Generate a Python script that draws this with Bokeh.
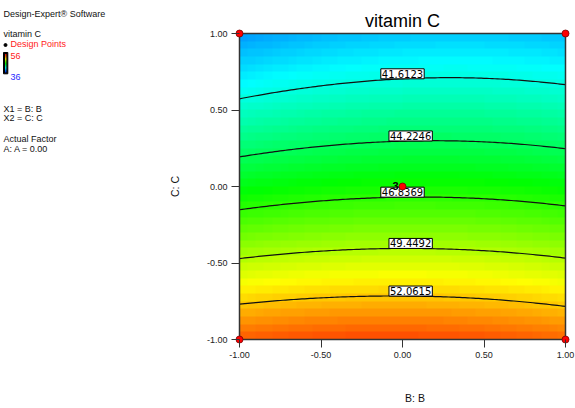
import numpy as np
from bokeh.plotting import figure
from bokeh.layouts import row, column
from bokeh.models import Range1d, FixedTicker, PrintfTickFormatter, LinearColorMapper, ColumnDataSource
from bokeh.core.properties import value
from bokeh.embed import file_html
from bokeh.resources import INLINE

# ---------------- data ----------------
title_text = "vitamin C"
x_label = "B: B"
y_label = "C: C"
tick_values = [-1.0, -0.5, 0.0, 0.5, 1.0]
# fitted quadratic response surface in coded B, C (A held at 0.00)
coef_b0 = 46.32
coef_B = 0.13
coef_C = -7.35
coef_BB = -0.53
coef_CC = 0.94
coef_BC = 0.25
contour_levels = [41.6123, 44.2246, 46.8369, 49.4492, 52.0615]
contour_label_B = [0.0, 0.05, 0.0, 0.05, 0.05]
design_B = [-1.0, -1.0, 1.0, 1.0, 0.0]
design_C = [-1.0, 1.0, -1.0, 1.0, 0.0]
center_reps = "3"
color_low, color_high = 36, 56
legend_head = ["Design-Expert\u00ae Software", "vitamin C"]
legend_points = "Design Points"
legend_factors = ["X1 = B: B", "X2 = C: C", "Actual Factor", "A: A = 0.00"]

FONT = value("Liberation Sans")


def response(B, C):
    return (coef_b0 + coef_B * B + coef_C * C + coef_BB * B * B
            + coef_CC * C * C + coef_BC * B * C)


def contour_C(B, level):
    a = coef_CC
    b = coef_C + coef_BC * B
    c = coef_b0 + coef_B * B + coef_BB * B * B - level
    return (-b - np.sqrt(b * b - 4 * a * c)) / (2 * a)


# palette blue -> cyan -> green -> yellow -> red
stops = np.array([[0, 0, 255], [0, 255, 255], [0, 255, 0], [255, 255, 0], [255, 0, 0]], float)
palette = []
for t in np.linspace(0, 1, 256):
    s = t * 4
    i = min(int(s), 3)
    f = s - i
    c = stops[i] * (1 - f) + stops[i + 1] * f
    palette.append("#%02x%02x%02x" % tuple(int(round(v)) for v in c))
mapper = LinearColorMapper(palette=palette, low=color_low, high=color_high)

PX_X, PX_Y = 163.0, 153.0   # pixels per coded unit
PAD = 5

# ---------------- main figure (page x 199..575, y 0..366) ----------------
mf = figure(width=376, height=366, title=None,
            x_range=Range1d(-1 - PAD / PX_X, 1 + PAD / PX_X),
            y_range=Range1d(-1 - PAD / PX_Y, 1 + 33 / PX_Y),
            toolbar_location=None, output_backend="svg",
            min_border_left=35, min_border_right=5, min_border_top=0, min_border_bottom=22)
mf.outline_line_color = None
mf.grid.visible = False
mf.background_fill_color = "white"

n = 40
centers = -1 + (np.arange(n) + 0.5) * 2 / n
BB, CC = np.meshgrid(centers, centers)
Z = response(BB, CC)
mf.image(image=[Z], x=-1, y=-1, dw=2, dh=2, color_mapper=mapper)

bs = np.linspace(-1, 1, 121)
xs = [list(bs) for _ in contour_levels]
ys = [list(contour_C(bs, lv)) for lv in contour_levels]
mf.multi_line(xs=xs, ys=ys, line_color="#111111", line_width=1.2)

mf.quad(left=[-1], right=[1], bottom=[-1], top=[1], fill_color=None,
        line_color="#333333", line_width=1.5)

lab_src = ColumnDataSource(dict(
    x=contour_label_B,
    y=[float(contour_C(b, lv)) for b, lv in zip(contour_label_B, contour_levels)],
    t=["%.4f" % lv for lv in contour_levels]))
mf.text(x="x", y="y", text="t", source=lab_src, text_font=value("DejaVu Sans"),
        text_font_size="10px", text_align="center", text_baseline="middle",
        y_offset=-5, text_color="black", background_fill_color="white",
        border_line_color="black", border_line_width=1, padding=1)

mf.scatter(x=design_B, y=design_C, size=7, fill_color="#ff0000", line_color="#7a0000",
           line_width=0.8)
mf.text(x=[design_B[4]], y=[design_C[4]], text=[center_reps], text_font=FONT,
        text_font_size="11px", text_font_style="bold", text_align="right",
        text_baseline="middle", x_offset=-4, y_offset=-1, text_color="black")

mf.text(x=[0.0], y=[1 - (20 - 33) / PX_Y], text=[title_text], text_font=FONT,
        text_font_size="18px", text_align="center", text_baseline="alphabetic",
        text_color="black")

for ax in (mf.xaxis, mf.yaxis):
    ax.ticker = FixedTicker(ticks=tick_values)
    ax.formatter = PrintfTickFormatter(format="%.2f")
    ax.axis_line_color = None
    ax.major_tick_in = PAD
    ax.major_tick_out = 3
    ax.minor_tick_line_color = None
    ax.major_tick_line_color = "#333333"
    ax.major_label_text_font = "Liberation Sans"
    ax.major_label_text_font_size = "9px"
    ax.major_label_text_color = "#222222"
    ax.major_label_standoff = 4

# ---------------- left legend panel (page x 0..199) ----------------
lf = figure(width=199, height=408, title=None, x_range=Range1d(0, 199), y_range=Range1d(408, 0),
            toolbar_location=None, output_backend="svg", min_border=0,
            x_axis_type=None, y_axis_type=None)
lf.outline_line_color = None
lf.background_fill_color = "white"

lf.text(x=[3, 3], y=[13, 33], text=legend_head, text_font=FONT, text_font_size="9px",
        text_baseline="alphabetic", text_color="#111111")
lf.scatter(x=[5], y=[44.5], size=3, fill_color="black", line_color="black")
lf.text(x=[10], y=[43.5], text=[legend_points], text_font=FONT, text_font_size="9px",
        text_baseline="alphabetic", text_color="#ff1a1a")
lf.quad(left=[3], right=[7.3], top=[52], bottom=[73.3], fill_color="black",
        line_color="black", line_width=1.0)
bar = np.linspace(color_high, color_low, 40).reshape(40, 1)
lf.image(image=[bar], x=4.6, y=53.5, dw=1.3, dh=18.5, color_mapper=mapper)
lf.text(x=[10], y=[55], text=[str(color_high)], text_font=FONT, text_font_size="9px",
        text_baseline="alphabetic", text_color="#ff1a1a")
lf.text(x=[10], y=[76], text=[str(color_low)], text_font=FONT, text_font_size="9px",
        text_baseline="alphabetic", text_color="#2a2aff")
lf.text(x=[3, 3, 3, 3], y=[108.2, 117.5, 138.2, 148.8], text=legend_factors, text_font=FONT,
        text_font_size="9px", text_baseline="alphabetic", text_color="#111111")
lf.text(x=[174], y=[186], text=[y_label], angle=np.pi / 2, text_font=FONT,
        text_font_size="10.5px", text_align="center", text_baseline="alphabetic",
        text_color="#111111")

# ---------------- bottom strip (page y 366..408) ----------------
bf = figure(width=376, height=42, title=None, x_range=Range1d(199, 575), y_range=Range1d(408, 366),
            toolbar_location=None, output_backend="svg", min_border=0,
            x_axis_type=None, y_axis_type=None)
bf.outline_line_color = None
bf.text(x=[401], y=[397.5], text=[x_label], text_font=FONT, text_font_size="10.5px",
        text_align="center", text_baseline="alphabetic", text_color="#111111")

layout = row(lf, column(mf, bf))
open("out.html", "w").write(file_html(layout, INLINE))
